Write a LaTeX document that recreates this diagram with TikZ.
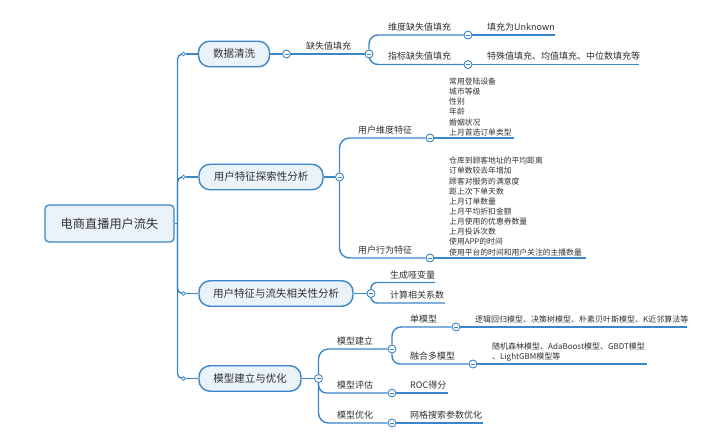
\documentclass[tikz,border=0pt]{standalone}
\usepackage{fontspec}
\newfontfamily\cjk{Noto Sans CJK SC}
\pgfdeclarelayer{lines}
\pgfsetlayers{lines,main}
\definecolor{lineblue}{HTML}{3A86C8}
\definecolor{boxfill}{HTML}{EAF2FA}
\definecolor{txt}{HTML}{303030}
\tikzset{
  link/.style={draw=lineblue, line width=1.4pt},
  topbox/.style={draw=lineblue, fill=boxfill, line width=1.4pt, rounded corners=11pt,
    minimum height=25.5pt, inner sep=0pt, font=\cjk\fontsize{10.5}{12}\selectfont, text=txt},
  rootbox/.style={draw=lineblue, fill=boxfill, line width=1.3pt, rounded corners=4pt,
    inner sep=0pt, font=\cjk\fontsize{12.2}{14}\selectfont, text=txt},
  dot/.style={circle, draw=lineblue, fill=white, line width=0.8pt, minimum size=3.8pt, inner sep=0pt},
  toggle/.style={circle, draw=lineblue, fill=white, line width=0.9pt, minimum size=8pt, inner sep=0pt,
    path picture={\draw[lineblue, line width=0.8pt] ([xshift=-2pt]path picture bounding box.center) -- ([xshift=2pt]path picture bounding box.center);}},
  lab/.style={anchor=base west, inner sep=0pt, font=\cjk\fontsize{9}{11}\selectfont, text=txt},
  leaf/.style={anchor=base west, inner sep=0pt, font=\cjk\fontsize{8}{10}\selectfont, text=txt},
  itemlist/.style={anchor=south west, inner sep=0pt, align=left, font=\cjk\fontsize{7.8}{10.15}\selectfont, text=txt},
  duolist/.style={anchor=south west, inner sep=0pt, align=left, font=\cjk\fontsize{8}{10}\selectfont, text=txt},
}
\begin{document}
\begin{tikzpicture}[x=1pt,y=-1pt]
\useasboundingbox (0,0) rectangle (720,433);
% root and trunk
\node[rootbox, minimum width=129pt, minimum height=37pt] (root) at (109.5,223.5) {电商直播用户流失};
\coordinate (tr) at (177.5,223.5);
\node[dot] (d1) at (183.5,54) {};
\node[dot] (d2) at (183.5,177) {};
\node[dot] (d3) at (183.5,293.5) {};
\node[dot] (d4) at (183.5,378.5) {};
% main topics
\node[topbox, minimum width=71pt] (b1) at (234,54) {数据清洗};
\node[topbox, minimum width=124pt] (b2) at (261,177) {用户特征探索性分析};
\node[topbox, minimum width=154pt] (b3) at (276,293.5) {用户特征与流失相关性分析};
\node[topbox, minimum width=102pt] (b4) at (250,378.5) {模型建立与优化};
% toggles
\node[toggle] (c1) at (286.5,54) {};
\node[toggle] (f1) at (369,54) {};
\node[toggle] (g1) at (468,35) {};
\node[toggle] (g2) at (468,64.5) {};
\node[toggle] (c2) at (339.5,177) {};
\node[toggle] (h1) at (430,138) {};
\node[toggle] (h2) at (430,258) {};
\node[toggle] (c3) at (371,293.5) {};
\node[toggle] (c4) at (318.5,378.5) {};
\node[toggle] (m1) at (392,349) {};
\node[toggle] (m2) at (392,393) {};
\node[toggle] (m3) at (392,423) {};
\node[toggle] (n1) at (456,327) {};
\node[toggle] (n2) at (473,364) {};
% leaf ends
\coordinate (e11) at (555,35);
\coordinate (e12) at (638.5,64.5);
\coordinate (e21) at (514,138);
\coordinate (e22) at (586,258);
\coordinate (e31) at (435,282.5);
\coordinate (e32) at (445,303);
\coordinate (e41) at (687,327);
\coordinate (e42) at (647,364);
\coordinate (e43) at (448,393);
\coordinate (e44) at (483,423);
% labels
\node[lab] (t1) at (306,49.5) {缺失值填充};
\node[lab] (t11) at (388,30.5) {维度缺失值填充};
\node[lab] (t12) at (388,60) {指标缺失值填充};
\node[lab] (t111) at (487,30.5) {填充为Unknown};
\node[lab] (t121) at (487,60) {特殊值填充、均值填充、中位数填充等};
\node[lab] (t21) at (358,133.5) {用户维度特征};
\node[lab] (t22) at (358,253.5) {用户行为特征};
\node[itemlist] (t211) at (449,136) {常用登陆设备\\城市等级\\性别\\年龄\\婚姻状况\\上月首选订单类型};
\node[itemlist] (t221) at (449,256) {仓库到顾客地址的平均距离\\订单数较去年增加\\顾客对服务的满意度\\距上次下单天数\\上月订单数量\\上月平均折扣金额\\上月使用的优惠券数量\\上月投诉次数\\使用APP的时间\\使用平台的时间和用户关注的主播数量};
\node[lab] (t31) at (390,278) {生成哑变量};
\node[lab] (t32) at (390,298.5) {计算相关系数};
\node[lab] (t41) at (337,344.5) {模型建立};
\node[lab] (t42) at (337,388.5) {模型评估};
\node[lab] (t43) at (337,418.5) {模型优化};
\node[lab] (t411) at (410,322.5) {单模型};
\node[lab] (t412) at (410,359.5) {融合多模型};
\node[leaf] (t4111) at (475,322) {逻辑回归模型、决策树模型、朴素贝叶斯模型、K近邻算法等};
\node[duolist] (t4121) at (492,361.5) {随机森林模型、AdaBoost模型、GBDT模型\\、LightGBM模型等};
\node[lab] (t421) at (410,388.5) {ROC得分};
\node[lab] (t431) at (410,418.5) {网格搜索参数优化};
% connectors
\begin{pgfonlayer}{lines}
\draw[link] (root) -- (tr);
\draw[link, rounded corners=5pt] (tr) |- (d1);
\draw[link, rounded corners=5pt] (tr) |- (d2);
\draw[link, rounded corners=5pt] (tr) |- (d3);
\draw[link, rounded corners=5pt] (tr) |- (d4);
\draw[link] (d1) -- (b1);
\draw[link] (d2) -- (b2);
\draw[link] (d3) -- (b3);
\draw[link] (d4) -- (b4);
\draw[link] (b1) -- (c1);
\draw[link] (b2) -- (c2);
\draw[link] (b3) -- (c3);
\draw[link] (b4) -- (c4);
% branch 1
\draw[link] (c1) -- (f1);
\draw[link, rounded corners=9pt] (f1) |- (g1);
\draw[link, rounded corners=9pt] (f1) |- (g2);
\draw[link] (g1) -- (e11);
\draw[link] (g2) -- (e12);
% branch 2
\draw[link, rounded corners=10pt] (c2) |- (h1);
\draw[link, rounded corners=10pt] (c2) |- (h2);
\draw[link] (h1) -- (e21);
\draw[link] (h2) -- (e22);
% branch 3
\draw[link, rounded corners=6pt] (c3) |- (e31);
\draw[link, rounded corners=6pt] (c3) |- (e32);
% branch 4
\draw[link, rounded corners=10pt] (c4) |- (m1);
\draw[link, rounded corners=8pt] (c4) |- (m2);
\draw[link, rounded corners=10pt] (c4) |- (m3);
\draw[link, rounded corners=9pt] (m1) |- (n1);
\draw[link, rounded corners=8pt] (m1) |- (n2);
\draw[link] (n1) -- (e41);
\draw[link] (n2) -- (e42);
\draw[link] (m2) -- (e43);
\draw[link] (m3) -- (e44);
\end{pgfonlayer}
\end{tikzpicture}
\end{document}
